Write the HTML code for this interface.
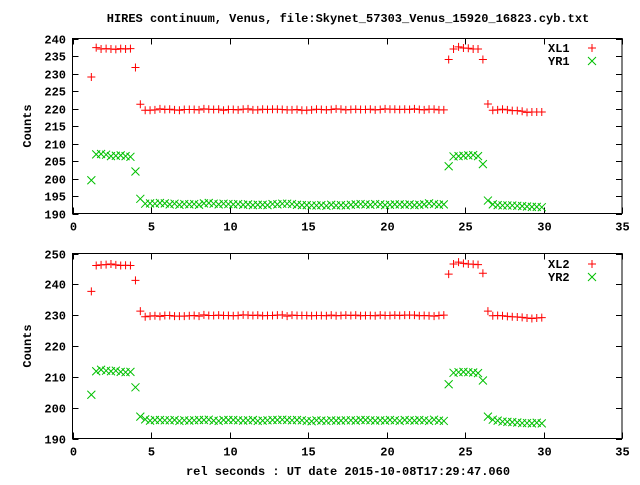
<!DOCTYPE html>
<html><head><meta charset="utf-8"><style>
body{margin:0;background:#fff}
svg text{font-family:"Liberation Mono",monospace;font-weight:bold;font-size:12px;fill:#000}
</style></head><body>
<svg id="chart" width="640" height="480" xmlns="http://www.w3.org/2000/svg">
<rect width="640" height="480" fill="#fff"/>
<text x="348" y="22" text-anchor="middle">HIRES continuum, Venus, file:Skynet_57303_Venus_15920_16823.cyb.txt</text>
<text x="348" y="475" text-anchor="middle">rel seconds : UT date 2015-10-08T17:29:47.060</text>
</svg>
<script>
const times=[1.20,1.51,1.82,2.14,2.45,2.76,3.07,3.38,3.69,4.01,4.32,4.63,4.94,5.25,5.57,5.88,6.19,6.50,6.81,7.12,7.44,7.75,8.06,8.37,8.68,8.99,9.31,9.62,9.93,10.24,10.55,10.87,11.18,11.49,11.80,12.11,12.42,12.74,13.05,13.36,13.67,13.98,14.30,14.61,14.92,15.23,15.54,15.85,16.17,16.48,16.79,17.10,17.41,17.73,18.04,18.35,18.66,18.97,19.28,19.60,19.91,20.22,20.53,20.84,21.16,21.47,21.78,22.09,22.40,22.71,23.03,23.34,23.65,23.96,24.27,24.59,24.90,25.21,25.52,25.83,26.14,26.46,26.77,27.08,27.39,27.70,28.01,28.33,28.64,28.95,29.26,29.57,29.89,30.20];
const xl1=[229,237.4,237,237.1,237,236.9,237.1,237,237.1,231.7,221.2,
219.5,219.5,219.6,219.9,219.7,219.8,219.6,219.5,219.7,219.7,219.7,219.6,219.9,219.8,219.7,219.8,219.5,219.7,219.7,219.6,219.8,219.9,219.6,219.6,219.8,219.7,219.8,219.8,219.7,219.6,219.6,219.7,219.5,219.5,219.6,219.8,219.7,219.6,219.7,219.9,219.8,219.6,219.7,219.8,219.7,219.7,219.8,219.6,219.7,219.9,219.8,219.8,219.7,219.8,219.7,219.9,219.7,219.6,219.8,219.8,219.6,219.6,
234,237,237.6,237.3,237.2,237,237,234,221.3,
219.5,219.6,219.8,219.6,219.4,219.4,219.2,218.9,219,219,219];
const yr1=[199.5,206.9,207,206.8,206.4,206.5,206.6,206.4,206.2,202,194.2,
192.8,192.9,192.8,193,192.9,192.6,192.8,192.5,192.7,192.6,192.7,192.5,192.9,193,192.8,192.6,192.8,192.7,192.6,192.7,192.5,192.6,192.4,192.5,192.5,192.4,192.7,192.6,192.8,192.8,192.7,192.5,192.4,192.4,192.3,192.3,192.4,192.2,192.5,192.3,192.4,192.3,192.5,192.6,192.7,192.6,192.5,192.7,192.6,192.4,192.5,192.6,192.6,192.5,192.6,192.4,192.5,192.6,192.9,192.7,192.5,192.6,
203.5,206.3,206.4,206.5,206.6,206.7,206.4,204.1,193.7,
192.6,192.4,192.3,192.3,192.3,192.2,192.1,192,191.9,191.9,191.8];
const xl2=[237.7,246.1,246.3,246.4,246.6,246.3,246.1,246.2,246.1,241.3,231.3,
229.5,229.7,229.8,229.6,229.9,229.9,229.7,229.7,229.7,229.8,229.9,229.7,230.1,229.9,229.9,230,229.9,229.9,229.8,229.9,230.1,230,229.9,230,229.8,229.9,229.9,230,230.1,229.7,230,229.9,229.9,229.9,229.8,229.9,229.9,229.8,230,229.8,229.9,230,229.9,230,229.8,229.9,229.9,229.8,230,229.9,229.9,230,229.9,230,230,230,229.8,229.9,229.8,229.7,229.9,230,
243.3,246.6,247.2,246.8,246.6,246.5,246.4,243.6,231.3,
229.8,229.9,229.8,229.6,229.5,229.4,229.3,229.1,228.9,229.1,229.2];
const yr2=[204.2,211.8,212.3,212,211.8,212,211.6,211.5,211.6,206.6,197.1,
196.2,195.8,196,196,195.9,195.9,196,195.7,195.9,195.8,195.9,196,196,196.1,195.8,195.7,196,196,196,195.9,195.8,195.9,196,195.7,195.8,195.9,196,196,196.1,196,195.9,196,195.9,195.7,195.6,195.9,195.8,195.7,195.9,195.8,195.8,195.9,195.9,195.8,196,196,195.9,195.8,195.9,195.8,196,195.9,195.7,196,195.9,195.8,196,195.9,195.7,196.1,195.8,195.7,
207.6,211.3,211.5,211.6,211.5,211.4,211.2,208.8,197.1,
196.1,195.8,195.5,195.4,195.3,195.2,195,195,194.9,195.1,194.9];
const xTicks=[0,5,10,15,20,25,30,35];
const yTicksTop=[190,195,200,205,210,215,220,225,230,235,240];
const yTicksBot=[190,200,210,220,230,240,250];
const NS="http://www.w3.org/2000/svg";
const svg=document.getElementById('chart');
function el(tag,attrs,parent){const e=document.createElementNS(NS,tag);for(const k in attrs)e.setAttribute(k,attrs[k]);(parent||svg).appendChild(e);return e;}
function panel(cfg){
  const {top,bottom,ymin,ymax,yTicks,series,legY,name}=cfg;
  const L=72.5,R=622;
  const g=el('g',{});
  
  
  const sx=v=>L+(v-0)/(35-0)*(R-L);
  const sy=v=>bottom-(v-ymin)/(ymax-ymin)*(bottom-top);
  const f=el('rect',{x:L,y:top,width:R-L,height:bottom-top,fill:'none',stroke:'#000','stroke-width':1},g);
  
  
  yTicks.forEach(t=>{
    const y=Math.round(sy(t))+0.5;
    el('line',{x1:L,x2:L+6,y1:y,y2:y,stroke:'#000'},g);
    el('line',{x1:R-6,x2:R,y1:y,y2:y,stroke:'#000'},g);
    const tx=el('text',{x:66,y:y+4,'text-anchor':'end'},g);
    tx.textContent=t;
    
    
  });
  xTicks.forEach(t=>{
    const x=Math.round(sx(t))+0.5;
    el('line',{x1:x,x2:x,y1:bottom,y2:bottom-6,stroke:'#000'},g);
    el('line',{x1:x,x2:x,y1:top,y2:top+6,stroke:'#000'},g);
    const tx=el('text',{x:x,y:bottom+17,'text-anchor':'middle'},g);
    tx.textContent=t;
    
    
  });
  const yl=el('text',{x:0,y:0,'text-anchor':'middle',transform:`translate(31,${(top+bottom)/2}) rotate(-90)`},g);
  yl.textContent='Counts';
  
  
  series.forEach((s,si)=>{
    const sg=el('g',{stroke:s.color,'stroke-width':1,fill:'none'},g);
    
    
    const mark=(x,y)=>{
      if(s.kind==='plus'){el('path',{d:`M${x-4},${y}h8M${x},${y-4}v8`},sg);}
      else{el('path',{d:`M${x-4},${y-4}l8,8M${x-4},${y+4}l8,-8`},sg);}
    };
    times.forEach((t,i)=>{mark(sx(t),sy(s.values[i]));});
    const ly=legY+si*13;
    const lt=el('text',{x:548,y:ly+4},g);
    lt.textContent=s.label;
    
    
    const lg=el('g',{stroke:s.color,fill:'none'},g);
    
    
    if(s.kind==='plus')el('path',{d:`M588,${ly}h8M592,${ly-4}v8`},lg);
    else el('path',{d:`M588,${ly-4}l8,8M588,${ly+4}l8,-8`},lg);
  });
}
panel({name:'top-panel',top:38.5,bottom:213.5,ymin:190,ymax:240,yTicks:yTicksTop,legY:48,
  series:[{label:'XL1',values:xl1,color:'#ff0000',kind:'plus'},{label:'YR1',values:yr1,color:'#00c000',kind:'x'}]});
panel({name:'bottom-panel',top:253.5,bottom:438.5,ymin:190,ymax:250,yTicks:yTicksBot,legY:264,
  series:[{label:'XL2',values:xl2,color:'#ff0000',kind:'plus'},{label:'YR2',values:yr2,color:'#00c000',kind:'x'}]});
</script>
</body></html>
